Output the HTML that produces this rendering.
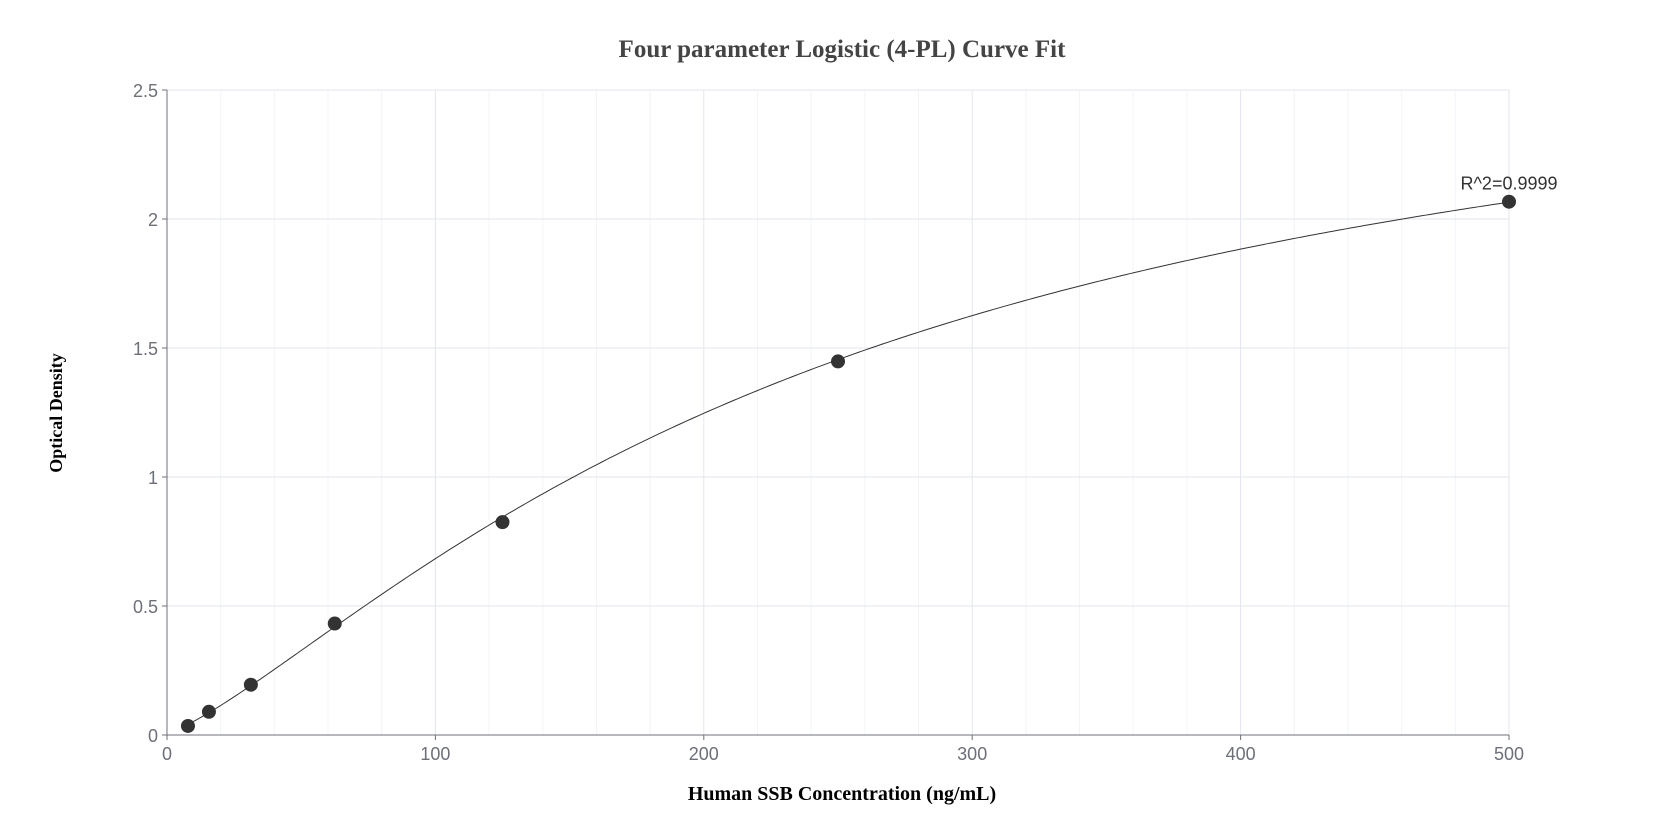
<!DOCTYPE html>
<html><head><meta charset="utf-8"><style>
html,body{margin:0;padding:0;background:#fff;}
svg{display:block;}
</style></head><body>
<svg id="chart" width="1675" height="840" xmlns="http://www.w3.org/2000/svg">
<text x="842" y="57" text-anchor="middle" font-family="Liberation Serif, serif" font-weight="bold" font-size="25" fill="#444">Four parameter Logistic (4-PL) Curve Fit</text>
<text transform="translate(62,413) rotate(-90)" text-anchor="middle" font-family="Liberation Serif, serif" font-weight="bold" font-size="18" fill="#000">Optical Density</text>
<text x="842" y="800" text-anchor="middle" font-family="Liberation Serif, serif" font-weight="bold" font-size="20" fill="#000">Human SSB Concentration (ng/mL)</text>
<g id="grid"></g>
<g id="axes"></g>
<g id="series"></g>
</svg>
<script>
const xTicks=[0,100,200,300,400,500];
const yTicks=[0,0.5,1,1.5,2,2.5];
const yTickLabels=["0","0.5","1","1.5","2","2.5"];
const concentrations=[7.8125,15.625,31.25,62.5,125,250,500];
const odValues=[0.035,0.09,0.195,0.432,0.825,1.448,2.067];
const fitParams=[0.01,2.9,250,1.3]; // a,d,c,b
const r2Label="R^2=0.9999";

const L=167,R=1509,T=90,B=735;
const sx=v=>L+(v-0)/(500-0)*(R-L);
const sy=v=>B-(v-0)/(2.5-0)*(B-T);
const NS="http://www.w3.org/2000/svg";
function mk(tag,attrs,parent){const e=document.createElementNS(NS,tag);for(const k in attrs)e.setAttribute(k,attrs[k]);parent.appendChild(e);return e;}
const grid=document.getElementById('grid'),axes=document.getElementById('axes'),series=document.getElementById('series');

for(let v=20;v<500;v+=20){if(v%100===0)continue;
 const l=mk('line',{x1:sx(v),x2:sx(v),y1:T,y2:B,stroke:'#f2f4f8','stroke-width':1},grid);
 
 }
xTicks.forEach(v=>{if(v===0)return;
 const l=mk('line',{x1:sx(v),x2:sx(v),y1:T,y2:B,stroke:'#e3e6ee','stroke-width':1},grid);
 
 });
yTicks.forEach(v=>{if(v===0)return;
 const l=mk('line',{x1:L,x2:R,y1:sy(v),y2:sy(v),stroke:'#e3e6ee','stroke-width':1},grid);
 
 });

const ya=mk('line',{x1:L,x2:L,y1:T,y2:B,stroke:'#6e7079','stroke-width':1},axes);


const xa=mk('line',{x1:L,x2:R,y1:B,y2:B,stroke:'#6e7079','stroke-width':1},axes);


yTicks.forEach((v,i)=>{
 const t=mk('line',{x1:L-5,x2:L,y1:sy(v),y2:sy(v),stroke:'#6e7079'},axes);
 
 
 const tx=mk('text',{x:L-9,y:sy(v)+7,'text-anchor':'end','font-family':'Liberation Sans, sans-serif','font-size':18,fill:'#6e7079'},axes);
 tx.textContent=yTickLabels[i];
 
 });
xTicks.forEach(v=>{
 const t=mk('line',{x1:sx(v),x2:sx(v),y1:B,y2:B+5,stroke:'#6e7079'},axes);
 
 
 const tx=mk('text',{x:sx(v),y:B+25,'text-anchor':'middle','font-family':'Liberation Sans, sans-serif','font-size':18,fill:'#6e7079'},axes);
 tx.textContent=String(v);
 
 });

const [a,d,c,b]=fitParams;
const f=x=>d+(a-d)/(1+Math.pow(x/c,b));
let pts=[];const x0=concentrations[0],x1=concentrations[concentrations.length-1];
for(let i=0;i<=300;i++){const x=x0+(x1-x0)*i/300;pts.push(sx(x).toFixed(2)+','+sy(f(x)).toFixed(2));}
const curve=mk('polyline',{points:pts.join(' '),fill:'none',stroke:'#333','stroke-width':1},series);


concentrations.forEach((x,i)=>{
 const p=mk('circle',{cx:sx(x),cy:sy(odValues[i]),r:7,fill:'#333'},series);
 
 });
const lbl=mk('text',{x:sx(x1),y:sy(odValues[odValues.length-1])-12,'text-anchor':'middle','font-family':'Liberation Sans, sans-serif','font-size':18,fill:'#333'},series);
lbl.textContent=r2Label;


</script>
</body></html>
